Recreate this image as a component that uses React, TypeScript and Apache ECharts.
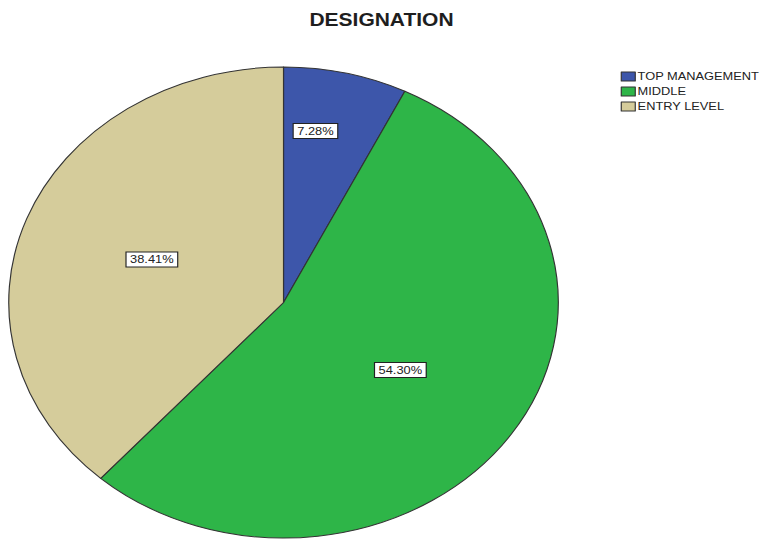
import React, { useEffect, useRef } from "react";
import * as echarts from "echarts";

const titleText = "DESIGNATION";
const categories = ["TOP MANAGEMENT", "MIDDLE", "ENTRY LEVEL"];
const percents = [7.28, 54.3, 38.41];
const colors = ["#3D56AA", "#2EB548", "#D5CC9B"];

// The reference is an SPSS pie that was stretched horizontally; we reproduce
// that by drawing the chart narrower and scaling it in X.
const STRETCH = 1.1667;
const OUT_W = 770;
const OUT_H = 540;

export default function App() {
  const ref = useRef<HTMLDivElement>(null);

  useEffect(() => {
    if (!ref.current) return;
    const chart = echarts.init(ref.current, undefined, { renderer: "svg" });
    const font = "'Liberation Sans', Arial, sans-serif";
    chart.setOption({
      animation: false,
      backgroundColor: "#ffffff",
      title: {
        text: titleText,
        left: 327,
        textAlign: "center",
        top: 11,
        padding: 0,
        textStyle: {
          fontFamily: font,
          fontWeight: "bold",
          fontSize: 18,
          color: "#1e1e1e",
        },
      },
      legend: {
        orient: "vertical",
        left: 532,
        top: 71,
        padding: 0,
        itemGap: 4,
        itemWidth: 12,
        itemHeight: 9,
        icon: "rect",
        selectedMode: false,
        data: categories,
        itemStyle: { borderColor: "#333333", borderWidth: 1 },
        textStyle: {
          fontFamily: font,
          fontSize: 11,
          color: "#222222",
          padding: [0, 0, 0, -3],
        },
      },
      series: [
        {
          type: "pie",
          center: [243, 302.5],
          radius: 235.5,
          startAngle: 90,
          clockwise: true,
          silent: true,
          emphasis: { disabled: true },
          data: categories.map((name, i) => ({
            name,
            value: percents[i],
            itemStyle: { color: colors[i] },
          })),
          itemStyle: { borderColor: "#333333", borderWidth: 1 },
          label: {
            show: true,
            position: "inside",
            formatter: (p: any) => `${Number(p.value).toFixed(2)}%`,
            fontFamily: font,
            fontSize: 11,
            color: "#222222",
            backgroundColor: "#ffffff",
            borderColor: "#222222",
            borderWidth: 1,
            padding: [2, 3, 1, 3],
          },
          labelLine: { show: false },
          labelLayout: (p: any) => (p.dataIndex === 0 ? { dy: -54 } : {}),
        },
      ],
    });
    return () => chart.dispose();
  }, []);

  return (
    <div
      style={{
        position: "absolute",
        left: 0,
        top: 0,
        width: OUT_W,
        height: OUT_H,
        overflow: "hidden",
        background: "#fff",
      }}
    >
      <div
        ref={ref}
        style={{
          width: Math.round(OUT_W / STRETCH),
          height: OUT_H,
          transform: `scaleX(${STRETCH})`,
          transformOrigin: "0 0",
        }}
      />
    </div>
  );
}
